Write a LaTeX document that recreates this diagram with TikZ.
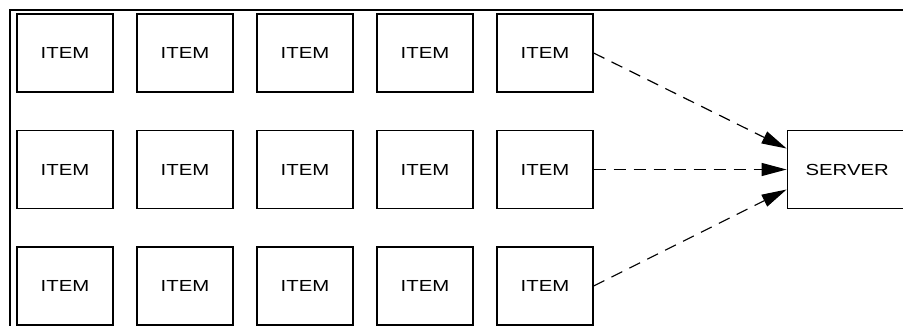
\documentclass[tikz,border=0pt]{standalone}
\usepackage{fontspec}
\setmainfont[FakeStretch=1.27]{Liberation Sans}
\usepackage{tikz}
\usetikzlibrary{arrows.meta, positioning}

\begin{document}
\begin{tikzpicture}[x=1pt, y=1pt,
      itembox/.style={
        rectangle, draw=black, line width=1.2pt, fill=white,
        minimum width=96pt, minimum height=78pt, inner sep=0pt,
        font=\fontsize{16pt}{19pt}\selectfont
      },
      serverbox/.style={
        itembox, minimum width=120pt
      },
      link/.style={
        -{Triangle[length=25pt, width=13pt]}, line width=1.2pt,
        dash pattern=on 12pt off 8pt
      }
    ]
      \useasboundingbox (0,0) rectangle (903,-325);
      % --- outer frame (only top and left edges show) ---
      \draw[line width=2.4pt] (10,-335) -- (10,-10) -- (915,-10);
      % --- 3 x 5 grid of items ---
      \foreach \r in {1,2,3} {
        \foreach \c in {1,...,5} {
          \node[itembox] (item\r\c) at ({65+120*(\c-1)}, {-53-116.5*(\r-1)}) {ITEM};
        }
      }
      % --- server, level with the middle row ---
      \node[serverbox, right=193pt of item25] (server) {SERVER};
      % --- dashed links from the last column into the server ---
      \draw[link] (item15.east) -- ([yshift=21pt]server.west);
      \draw[link] (item25.east) -- (server.west);
      \draw[link] (item35.east) -- ([yshift=-20pt]server.west);
    \end{tikzpicture}
\end{document}
